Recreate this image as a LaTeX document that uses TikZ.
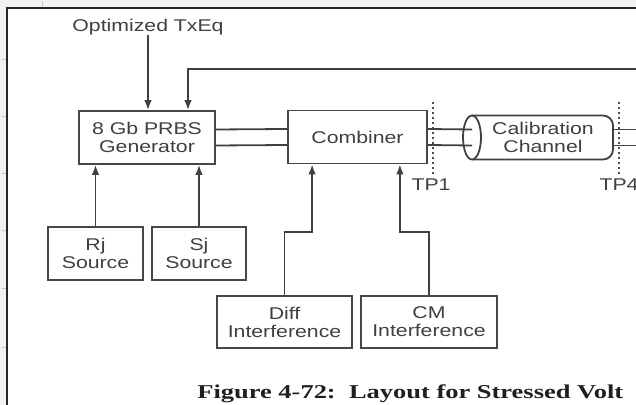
\documentclass[tikz,border=0pt]{standalone}
\usepackage{fontspec}
\usetikzlibrary{arrows.meta,calc}
\newfontfamily\blkfont[FakeStretch=1.25]{Liberation Sans}
\newfontfamily\capfont[FakeStretch=1.35]{Liberation Serif}

\begin{document}
\begin{tikzpicture}[x=0.5pt,y=-0.5pt,
  blk/.style={draw=black!72,line width=0.9pt,inner sep=0pt,align=center,
    minimum height=26.5pt,text=black!75,font=\blkfont\fontsize{8.5}{9}\selectfont},
  lbl/.style={text=black!75,inner sep=0pt,align=center,font=\blkfont\fontsize{8.5}{9}\selectfont},
  wire/.style={draw=black!75,line width=0.9pt},
  arr/.style={wire,-{Latex[length=5pt,width=3.8pt]}},
  tpline/.style={draw=black!70,line width=0.9pt,dash pattern=on 1.1pt off 1.4pt}]
\useasboundingbox (0,0) rectangle (636,405);
\clip (0,0) rectangle (636,405);
\fill[black!5] (0,0) rectangle (636,405);
\fill[white] (7,8) rectangle (660,430);
\draw[black!85,line width=1pt] (7,430) -- (7,8) -- (660,8);
\foreach \t in {60,117,174,231,289,347}
  \draw[black!22,line width=0.5pt] (2,\t) -- (6,\t);
\draw[black!22,line width=0.5pt] (42,1) -- (42,6);

% blocks
\node[lbl] (txeq) at (148,27) {Optimized TxEq};
\node[blk,minimum width=68pt] (prbs) at (147,137.5) {8 Gb PRBS\\Generator};
\node[blk,minimum width=69.5pt] (comb) at (357.5,137) {Combiner};
\node[blk,minimum width=47.5pt] (rj) at (95.5,253.5) {Rj\\Source};
\node[blk,minimum width=47pt] (sj) at (199,253.5) {Sj\\Source};
\node[blk,minimum width=67.5pt,minimum height=26pt] (diff) at (284.5,322) {Diff\\Interference};
\node[blk,minimum width=68pt,minimum height=26pt] (cm) at (429,322) {CM\\Interference};
\node[lbl] (cal) at (543,137.5) {Calibration\\Channel};
% cylinder round the channel
\draw[wire,rounded corners=5pt] ($(cal)+(-71,-22)$) -- ++(141,0) -- ++(0,44) -- ++(-141,0);
\draw[wire] ($(cal)+(-71,0)$) ellipse[x radius=9,y radius=22];

% test points
\node[lbl] (tp1) at (431,185) {TP1};
\node[lbl] (tp4) at (619,185) {TP4};
\draw[tpline] (433,102) -- (433,174);
\draw[tpline] (619,102) -- (619,174);

% connectors
\coordinate (rim) at (640,69);
\draw[arr] (txeq) -- (txeq |- prbs.north);
\draw[arr] (rim) -| ($(prbs.north)+(41,0)$);
\draw[arr] (rj.north) -- (rj.north |- prbs.south);
\draw[arr] (sj.north) -- (sj.north |- prbs.south);
\foreach \dy in {-8,8} {
  \draw[wire] ($(prbs.east)+(0,\dy)$) -- ($(comb.west)+(0,\dy)$);
  \draw[wire] ($(comb.east)+(0,\dy)$) -- ($(cal)+(-71,\dy)$);
  \draw[wire] ($(cal)+(70,\dy)$) -- ($(cal)+(100,\dy)$);
}
\draw[arr] (diff.north) -- ++(0,-63) -| ($(comb.south west)+(25,0)$);
\draw[arr] (cm.north) -- ++(0,-63) -| ($(comb.south east)+(-28,0)$);

\node[anchor=base west,inner sep=0pt,text=black!88,
  font=\capfont\bfseries\fontsize{9.8}{12}\selectfont] (cap) at (197,398)
  {Figure 4-72:\ \ Layout for Stressed Volt};
\end{tikzpicture}
\end{document}
